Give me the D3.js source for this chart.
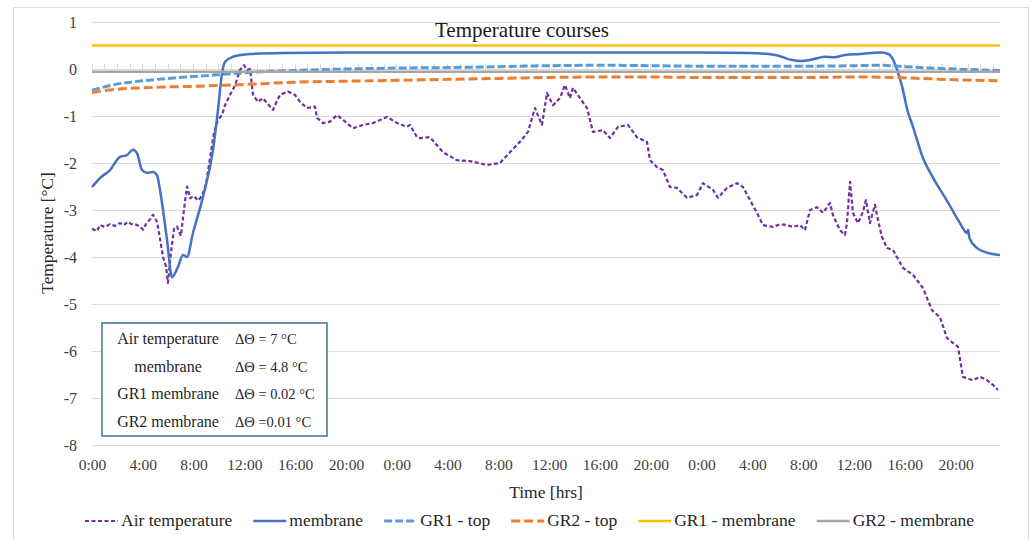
<!DOCTYPE html>
<html>
<head>
<meta charset="utf-8">
<script src="https://cdn.jsdelivr.net/npm/d3@7"></script>
<style>
  html, body { margin: 0; padding: 0; background: #fff; }
  svg { display: block; }
  text { font-family: "Liberation Serif", "Times New Roman", serif; }
</style>
</head>
<body>
<div id="chart"></div>
<script>
// ---------------- DATA ----------------
const chartTitle = "Temperature courses";
const xTitle = "Time [hrs]";
const yTitle = "Temperature [°C]";
const tickHours = [0, 4, 8, 12, 16, 20, 24, 28, 32, 36, 40, 44, 48, 52, 56, 60, 64, 68];
const tickLabels = ["0:00", "4:00", "8:00", "12:00", "16:00", "20:00", "0:00", "4:00", "8:00", "12:00", "16:00", "20:00", "0:00", "4:00", "8:00", "12:00", "16:00", "20:00"];
const yTicks = [1, 0, -1, -2, -3, -4, -5, -6, -7, -8];
const yTickLabels = ["1", "0", "-1", "-2", "-3", "-4", "-5", "-6", "-7", "-8"];
const seriesNames = ["Air temperature", "membrane", "GR1 - top", "GR2 - top", "GR1 - membrane", "GR2 - membrane"];

const airHours = [0.0, 0.39, 0.63, 1.0, 1.42, 1.8, 2.2, 2.5, 2.83, 3.1, 3.39, 3.78, 4.02, 4.25, 4.57, 4.8, 5.12, 5.35, 5.59, 5.83, 5.98, 6.22, 6.46, 6.69, 7.0, 7.24, 7.48, 7.72, 8.03, 8.35, 8.66, 8.98, 9.29, 9.61, 9.92, 10.24, 10.47, 10.87, 11.26, 11.65, 11.97, 12.2, 12.44, 12.68, 13.07, 13.46, 14.02, 14.25, 14.8, 15.43, 15.98, 16.38, 16.93, 17.56, 17.72, 18.19, 18.74, 19.29, 19.76, 20.55, 21.34, 22.13, 23.23, 24.02, 24.8, 25.04, 25.59, 25.83, 26.61, 27.64, 28.74, 29.76, 31.1, 32.13, 32.91, 33.7, 34.33, 34.88, 35.43, 35.83, 36.3, 36.85, 37.24, 37.64, 37.87, 38.43, 38.98, 39.45, 40.24, 40.79, 41.42, 42.2, 42.91, 43.7, 43.94, 44.49, 44.96, 45.51, 46.06, 46.85, 47.64, 48.11, 48.9, 49.29, 50.0, 50.79, 51.26, 51.81, 52.36, 52.83, 53.62, 54.2, 54.72, 55.2, 55.75, 56.14, 56.54, 57.09, 57.56, 58.11, 58.35, 58.9, 59.29, 59.45, 59.69, 59.92, 60.31, 60.71, 60.94, 61.26, 61.65, 61.89, 62.2, 62.6, 63.07, 63.86, 64.65, 65.43, 66.14, 66.77, 67.32, 67.8, 68.19, 68.58, 69.37, 69.92, 70.47, 70.94, 71.34];
const airTemp = [-3.4, -3.45, -3.32, -3.36, -3.3, -3.34, -3.28, -3.32, -3.25, -3.3, -3.3, -3.35, -3.42, -3.3, -3.2, -3.1, -3.25, -3.6, -4.0, -4.2, -4.55, -3.9, -3.4, -3.35, -3.55, -3.0, -2.5, -2.75, -2.7, -2.8, -2.7, -2.45, -1.9, -1.35, -1.08, -0.98, -0.77, -0.55, -0.35, -0.02, 0.08, -0.02, 0.0, -0.55, -0.7, -0.62, -0.8, -0.87, -0.55, -0.48, -0.55, -0.7, -0.83, -0.8, -1.04, -1.15, -1.12, -0.98, -1.08, -1.26, -1.19, -1.15, -1.02, -1.15, -1.23, -1.19, -1.45, -1.47, -1.45, -1.77, -1.94, -1.96, -2.04, -2.0, -1.77, -1.55, -1.34, -0.83, -1.19, -0.51, -0.77, -0.62, -0.34, -0.62, -0.4, -0.62, -0.83, -1.34, -1.3, -1.47, -1.23, -1.19, -1.45, -1.55, -1.94, -2.09, -2.15, -2.51, -2.53, -2.74, -2.68, -2.43, -2.57, -2.74, -2.53, -2.43, -2.51, -2.79, -3.06, -3.32, -3.36, -3.3, -3.32, -3.36, -3.32, -3.43, -3.0, -2.94, -3.06, -2.85, -3.11, -3.43, -3.53, -3.28, -2.4, -3.06, -3.28, -3.04, -2.79, -3.28, -2.89, -3.21, -3.57, -3.81, -3.85, -4.23, -4.38, -4.66, -5.13, -5.28, -5.72, -5.83, -5.91, -6.55, -6.62, -6.55, -6.62, -6.72, -6.83];

const membraneHours = [0, 0.63, 1.42, 2.2, 2.76, 3.23, 3.54, 3.94, 4.33, 4.8, 5.12, 5.35, 5.91, 6.3, 6.77, 7.17, 7.48, 7.95, 8.74, 9.53, 9.92, 10.24, 10.47, 11.1, 12.44, 15.04, 20.3, 32.1, 43.9, 47.9, 51.8, 53.8, 55.0, 55.75, 56.7, 57.7, 58.5, 59.3, 60.5, 62.05, 62.7, 63.1, 63.4, 63.8, 64.2, 64.65, 65.4, 66.2, 67.3, 68.35, 68.9, 68.98, 69.1, 69.7, 70.5, 71.5];
const membraneTemp = [-2.51, -2.32, -2.15, -1.87, -1.83, -1.72, -1.79, -2.15, -2.21, -2.19, -2.26, -2.57, -3.64, -4.43, -4.21, -3.96, -4.0, -3.49, -2.72, -1.72, -0.87, -0.09, 0.15, 0.26, 0.32, 0.34, 0.35, 0.35, 0.35, 0.35, 0.34, 0.3, 0.2, 0.17, 0.2, 0.26, 0.25, 0.3, 0.32, 0.35, 0.32, 0.19, -0.02, -0.38, -0.87, -1.23, -1.87, -2.3, -2.79, -3.28, -3.49, -3.42, -3.6, -3.81, -3.91, -3.96];

const gr1TopHours = [0, 1, 2, 3, 4, 6, 8, 10, 12, 14, 16, 20, 24, 28, 32, 36, 40, 44, 48, 52, 56, 60, 62, 64, 66, 68, 70, 71.5];
const gr1TopTemp = [-0.45, -0.38, -0.32, -0.28, -0.25, -0.2, -0.16, -0.12, -0.08, -0.05, -0.03, 0.0, 0.02, 0.03, 0.05, 0.07, 0.08, 0.07, 0.06, 0.06, 0.06, 0.07, 0.08, 0.05, 0.02, 0.0, -0.02, -0.03];

const gr2TopHours = [0, 1, 2, 4, 6, 8, 10, 12, 16, 20, 24, 28, 32, 36, 40, 44, 48, 52, 56, 60, 63, 66, 68, 71.5];
const gr2TopTemp = [-0.5, -0.46, -0.43, -0.4, -0.38, -0.37, -0.35, -0.33, -0.28, -0.26, -0.24, -0.22, -0.2, -0.18, -0.17, -0.17, -0.18, -0.18, -0.18, -0.17, -0.18, -0.21, -0.23, -0.25];

const gr1MembraneHours = [0, 24, 48, 71.5];
const gr1MembraneTemp = [0.5, 0.5, 0.5, 0.5];

const gr2MembraneHours = [0, 24, 48, 71.5];
const gr2MembraneTemp = [-0.06, -0.06, -0.06, -0.06];

const boxNames = ["Air temperature", "membrane", "GR1 membrane", "GR2 membrane"];
const boxValues = ["ΔΘ = 7 °C", "ΔΘ = 4.8 °C", "ΔΘ = 0.02 °C", "ΔΘ =0.01 °C"];

// ---------------- CHART ----------------
const W = 1036, H = 540;
const svg = d3.select("#chart").append("svg").attr("width", W).attr("height", H);

// outer chart border
svg.append("rect").attr("x", 13.5).attr("y", 7.5).attr("width", 1015).attr("height", 560)
  .attr("fill", "#fff").attr("stroke", "#d9d9d9").attr("stroke-width", 1);

const x = d3.scaleLinear().domain([0, 71.5]).range([92, 1000]);
const y = d3.scaleLinear().domain([-8, 1]).range([445, 22]);

// gridlines
svg.append("g").selectAll("line").data(yTicks).join("line")
  .attr("x1", x(0)).attr("x2", x(71.5))
  .attr("y1", d => y(d)).attr("y2", d => y(d))
  .attr("stroke", "#d9d9d9").attr("stroke-width", 1).attr("shape-rendering", "crispEdges");

// y axis labels
const yAxis = d3.axisLeft(y).tickValues(yTicks).tickSize(0).tickPadding(0)
  .tickFormat((d, i) => yTickLabels[i]);
const gy = svg.append("g").attr("transform", "translate(77,0)").call(yAxis);
gy.select(".domain").remove();
gy.selectAll("text").attr("font-size", 16).attr("fill", "#404040")
  .style("font-family", '"Liberation Serif", serif');

// x axis line at 0 with hourly minor ticks
const hourTicks = d3.range(0, 72, 1);
svg.append("line").attr("x1", x(0)).attr("x2", x(71.5)).attr("y1", y(0)).attr("y2", y(0))
  .attr("stroke", "#d9d9d9").attr("stroke-width", 1).attr("shape-rendering", "crispEdges");
svg.append("g").selectAll("line").data(hourTicks).join("line")
  .attr("x1", d => x(d)).attr("x2", d => x(d))
  .attr("y1", y(0) - 5).attr("y2", y(0))
  .attr("stroke", "#d9d9d9").attr("stroke-width", 1).attr("shape-rendering", "crispEdges");

// x tick labels (low position)
const xAxis = d3.axisBottom(x).tickValues(tickHours).tickSize(0).tickPadding(0)
  .tickFormat((d, i) => tickLabels[i]);
const gx = svg.append("g").attr("transform", "translate(0,459)").call(xAxis);
gx.select(".domain").remove();
gx.selectAll("text").attr("font-size", 15.5).attr("fill", "#404040")
  .style("font-family", '"Liberation Serif", serif');

// series
const series = [
  {hours: airHours, vals: airTemp, color: "#7030a0", width: 2.2, dash: "4,2.5"},
  {hours: membraneHours, vals: membraneTemp, color: "#4472c4", width: 2.5, dash: null},
  {hours: gr1TopHours, vals: gr1TopTemp, color: "#5b9bd5", width: 3, dash: "8,3"},
  {hours: gr2TopHours, vals: gr2TopTemp, color: "#ed7d31", width: 3, dash: "9,4"},
  {hours: gr1MembraneHours, vals: gr1MembraneTemp, color: "#ffc000", width: 2.5, dash: null},
  {hours: gr2MembraneHours, vals: gr2MembraneTemp, color: "#a5a5a5", width: 2.5, dash: null}
];
const line = d3.line().x(d => x(d[0])).y(d => y(d[1]));
const curveLine = d3.line().x(d => x(d[0])).y(d => y(d[1])).curve(d3.curveMonotoneX);
series.forEach((s, i) => {
  const pts = s.hours.map((h, j) => [h, s.vals[j]]);
  svg.append("path").datum(pts)
    .attr("d", (i === 0 ? line : curveLine))
    .attr("fill", "none").attr("stroke", s.color).attr("stroke-width", s.width)
    .attr("stroke-dasharray", s.dash).attr("stroke-linejoin", "round");
});

// title
svg.append("text").attr("x", 522).attr("y", 37).attr("text-anchor", "middle")
  .attr("font-size", 21).attr("fill", "#1a1a1a").text(chartTitle);

// axis titles
svg.append("text").attr("x", 546).attr("y", 498).attr("text-anchor", "middle")
  .attr("font-size", 17.5).attr("fill", "#262626").text(xTitle);
svg.append("text").attr("transform", "translate(53,233) rotate(-90)").attr("text-anchor", "middle")
  .attr("font-size", 17.3).attr("fill", "#262626").text(yTitle);

// inset box
const bx = 102, by = 323, bw = 225, bh = 113;
svg.append("rect").attr("x", bx).attr("y", by).attr("width", bw).attr("height", bh)
  .attr("fill", "#fff").attr("stroke", "#41719c").attr("stroke-width", 1.5);
const rowY = [339, 367, 394, 422];
svg.append("g").selectAll("text").data(boxNames).join("text")
  .attr("x", 168).attr("y", (d, i) => rowY[i] + 5).attr("text-anchor", "middle")
  .attr("font-size", 16).attr("fill", "#1f1f1f").text(d => d);
svg.append("g").selectAll("text").data(boxValues).join("text")
  .attr("x", 235).attr("y", (d, i) => rowY[i] + 5)
  .attr("font-size", 14.5).attr("fill", "#262626").text(d => d);

// legend
const legend = svg.append("g");
let lx = 85;
const ly = 521;
series.forEach((s, i) => {
  legend.append("line").attr("x1", lx).attr("x2", lx + 33).attr("y1", ly).attr("y2", ly)
    .attr("stroke", s.color).attr("stroke-width", s.width).attr("stroke-dasharray", s.dash);
  const t = legend.append("text").attr("x", lx + 36).attr("y", ly + 5)
    .attr("font-size", 17.5).attr("fill", "#262626").text(seriesNames[i]);
  lx += 36 + t.node().getComputedTextLength() + 21;
});
</script>
</body>
</html>
